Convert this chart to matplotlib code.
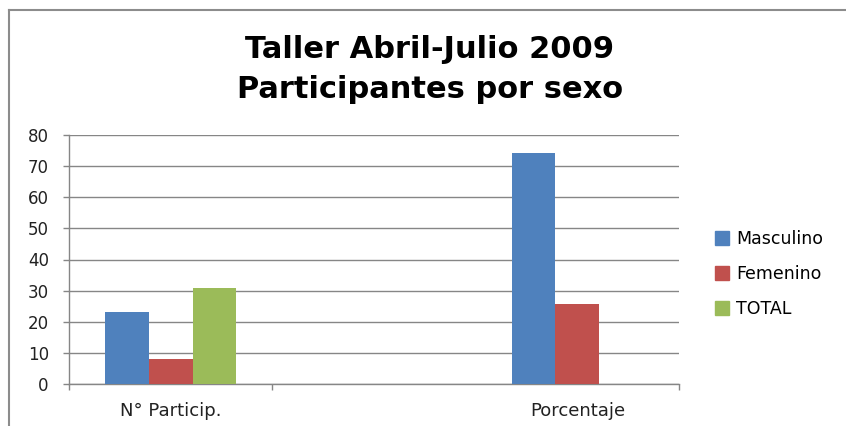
import numpy as np
import matplotlib
matplotlib.use("Agg")
import matplotlib.pyplot as plt
from matplotlib.lines import Line2D

categories = ["N° Particip.", "", "Porcentaje"]
series = ["Masculino", "Femenino", "TOTAL"]
masculino = [23, 0, 74.2]
femenino = [8, 0, 25.8]
total = [31, 0, 0]
yticks = [0, 10, 20, 30, 40, 50, 60, 70, 80]

COLORS = ["#4F81BD", "#C0504D", "#9BBB59"]
GRID = "#868686"
plt.rcParams["font.family"] = ["DejaVu Sans"]

fig = plt.figure(figsize=(8.46, 4.26), dpi=100)
ax = fig.add_axes([69 / 846, 1 - 384 / 426, 610 / 846, 249 / 426])

x = np.arange(len(categories))
w = 0.215
for i, (vals, c, lab) in enumerate(zip([masculino, femenino, total], COLORS, series)):
    ax.bar(x + (i - 1) * w, vals, width=w, color=c, label=lab, zorder=3)

ax.set_xlim(-0.5, len(categories) - 0.5)
ax.set_ylim(0, 80)
ax.set_yticks(yticks)
ax.set_yticklabels([str(v) for v in yticks], fontsize=12, color="#222222")
ax.yaxis.grid(True, color=GRID, lw=1.0, zorder=0)
ax.tick_params(axis="y", length=4.5, width=1, color=GRID, pad=10)

ax.set_xticks([0, 2])
ax.set_xticklabels([categories[0], categories[2]], fontsize=13, color="#222222")
ax.tick_params(axis="x", length=0, pad=13)
ax.set_xticks([-0.5, 0.5, 2.5], minor=True)
ax.tick_params(axis="x", which="minor", length=4.5, width=1, color=GRID)

for s in ["top", "right"]:
    ax.spines[s].set_visible(False)
for s in ["left", "bottom"]:
    ax.spines[s].set_color(GRID)
    ax.spines[s].set_linewidth(1.0)

handles = [Line2D([], [], marker="s", ls="", color=c, markersize=10) for c in COLORS]
fig.legend(handles, series, loc="upper left", bbox_to_anchor=(698 / 846, 1 - 214 / 426),
           frameon=False, fontsize=12.5, handletextpad=0.3, labelspacing=1.0,
           handlelength=1.0)

fig.text(0.508, 1 - 49 / 426, "Taller Abril-Julio 2009", ha="center", va="center",
         fontsize=22, fontweight="bold")
fig.text(0.508, 1 - 90 / 426, "Participantes por sexo", ha="center", va="center",
         fontsize=22, fontweight="bold")

# outer chart frame (top and left edges visible)
fig.add_artist(Line2D([9 / 846, 1.0], [1 - 10 / 426] * 2, color="#8c8c8c", lw=1.5,
                      transform=fig.transFigure))
fig.add_artist(Line2D([9 / 846] * 2, [0, 1 - 10 / 426], color="#8c8c8c", lw=1.5,
                      transform=fig.transFigure))

fig.savefig("out.png", dpi=100)
